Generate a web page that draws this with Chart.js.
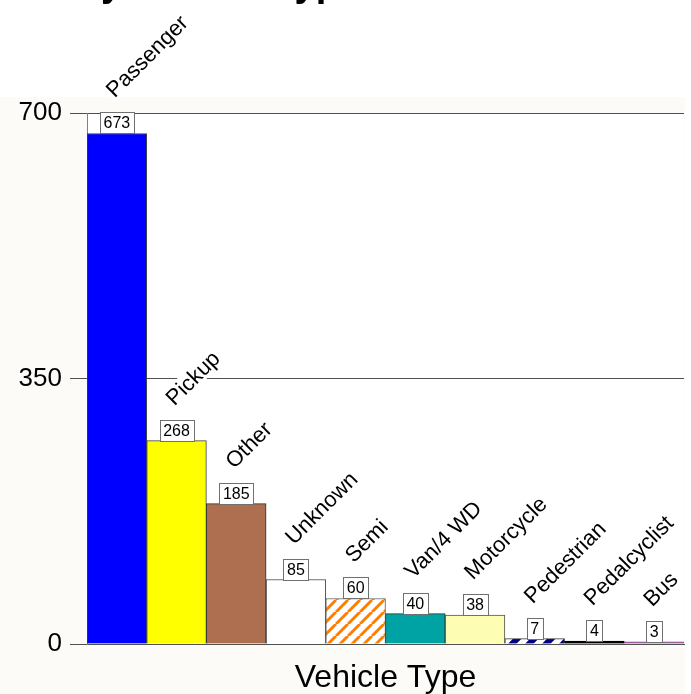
<!DOCTYPE html>
<html>
<head>
<meta charset="utf-8">
<script src="https://cdn.jsdelivr.net/npm/chart.js@4/dist/chart.umd.min.js"></script>
<style>
  html, body { margin: 0; padding: 0; background: #fff; }
  #wrap { width: 691px; height: 694px; }
</style>
</head>
<body>
<div id="wrap"><canvas id="chart" width="691" height="694"></canvas></div>
<script>
// data
const vehicleTypes = ['Passenger', 'Pickup', 'Other', 'Unknown', 'Semi', 'Van/4 WD', 'Motorcycle', 'Pedestrian', 'Pedalcyclist', 'Bus'];
const crashCounts = [673, 268, 185, 85, 60, 40, 38, 7, 4, 3];
const yTickValues = [0, 350, 700];
const chartTitle = 'Crashes by Vehicle Type';
const axisTitle = 'Vehicle Type';

const FONT = '"Liberation Sans", Arial, Helvetica, sans-serif';

// diagonal hatch fill, like the old chart package used
function stripes(color, size, width) {
  const p = document.createElement('canvas');
  p.width = p.height = size;
  const g = p.getContext('2d');
  g.fillStyle = '#fff';
  g.fillRect(0, 0, size, size);
  g.strokeStyle = color;
  g.lineWidth = width;
  g.beginPath();
  for (let k = -1; k <= 1; k++) {
    g.moveTo(k * size, size);
    g.lineTo(k * size + size, 0);
  }
  g.stroke();
  return g.createPattern(p, 'repeat');
}

const fills = [
  '#0000ff', '#ffff00', '#ad6f4f', '#ffffff', stripes('#ff8000', 12, 3),
  '#00a3a3', '#fdfdb3', stripes('#000080', 17, 6), '#000000', '#a060a0'
];
const borders = ['#404040', '#404040', '#303030', '#404040', '#606060', '#303030', '#505050', '#404040', '#000000', '#805080'];

const backdrop = {
  id: 'backdrop',
  beforeDraw(chart) {
    const { ctx, chartArea } = chart;
    ctx.save();
    ctx.fillStyle = '#fff';
    ctx.fillRect(0, 0, chart.width, chart.height);
    ctx.fillStyle = '#fcfbf8';
    ctx.fillRect(0, 97, 685, chart.height - 97);
    ctx.fillStyle = '#fff';
    ctx.fillRect(chartArea.left, chartArea.top, chartArea.right - chartArea.left, chartArea.bottom - chartArea.top);
    ctx.restore();
  }
};

const barLabels = {
  id: 'barLabels',
  afterDatasetsDraw(chart) {
    const ctx = chart.ctx;
    const meta = chart.getDatasetMeta(0);
    meta.data.forEach((bar, i) => {
      const txt = String(crashCounts[i]);
      ctx.save();
      ctx.font = '16px ' + FONT;
      const w = Math.round(ctx.measureText(txt).width) + 7;
      const h = 21;
      const bx = Math.round(bar.x - w / 2) + 0.5;
      const by = Math.round(bar.y) - h + 0.5;
      ctx.fillStyle = '#fff';
      ctx.fillRect(bx, by, w, h);
      ctx.strokeStyle = '#707070';
      ctx.lineWidth = 1;
      ctx.strokeRect(bx, by, w, h);
      ctx.fillStyle = '#000';
      ctx.textAlign = 'center';
      ctx.textBaseline = 'middle';
      ctx.fillText(txt, bar.x, by + h / 2 + 1);

      // slanted category name above the box
      ctx.translate(bar.x - 2, by - 14);
      ctx.rotate(-Math.PI / 4);
      ctx.font = '22px ' + FONT;
      const lw = ctx.measureText(vehicleTypes[i]).width;
      ctx.fillStyle = '#fff';
      ctx.fillRect(-3, -18, lw + 6, 21);
      ctx.fillStyle = '#000';
      ctx.textAlign = 'left';
      ctx.textBaseline = 'alphabetic';
      ctx.fillText(vehicleTypes[i], 0, 0);
      ctx.restore();
    });
  }
};

// the title sits mostly above the crop, only its descenders show
const topTitle = {
  id: 'topTitle',
  afterDraw(chart) {
    const ctx = chart.ctx;
    ctx.save();
    ctx.font = 'bold 38px ' + FONT;
    const pre = ctx.measureText('Crashes b').width;
    ctx.fillStyle = '#000';
    ctx.textBaseline = 'alphabetic';
    ctx.fillText(chartTitle, 101 - pre, -4);
    ctx.restore();
  }
};

new Chart(document.getElementById('chart'), {
  type: 'bar',
  data: {
    labels: vehicleTypes,
    datasets: [{
      data: crashCounts,
      backgroundColor: fills,
      borderColor: borders,
      borderWidth: 1,
      categoryPercentage: 1,
      barPercentage: 1
    }]
  },
  options: {
    responsive: false,
    animation: false,
    layout: { padding: { top: 113, right: 7, left: 0, bottom: 0 } },
    plugins: {
      legend: { display: false },
      tooltip: { enabled: false }
    },
    scales: {
      x: {
        grid: { display: false },
        border: { display: true, color: '#505050' },
        ticks: { display: false },
        title: {
          display: true,
          text: axisTitle,
          color: '#000',
          font: { family: FONT, size: 32 },
          padding: { top: 0, bottom: -3 }
        },
        afterFit(scale) { scale.height = 50; }
      },
      y: {
        min: 0,
        max: 700,
        afterBuildTicks(scale) { scale.ticks = yTickValues.map(v => ({ value: v })); },
        grid: { color: '#505050', tickLength: 17, drawTicks: true },
        border: { display: true, color: '#808080' },
        ticks: { color: '#000', font: { family: FONT, size: 26 }, padding: 8 },
        afterFit(scale) { scale.width = 87; }
      }
    }
  },
  plugins: [backdrop, barLabels, topTitle]
});
</script>
</body>
</html>
